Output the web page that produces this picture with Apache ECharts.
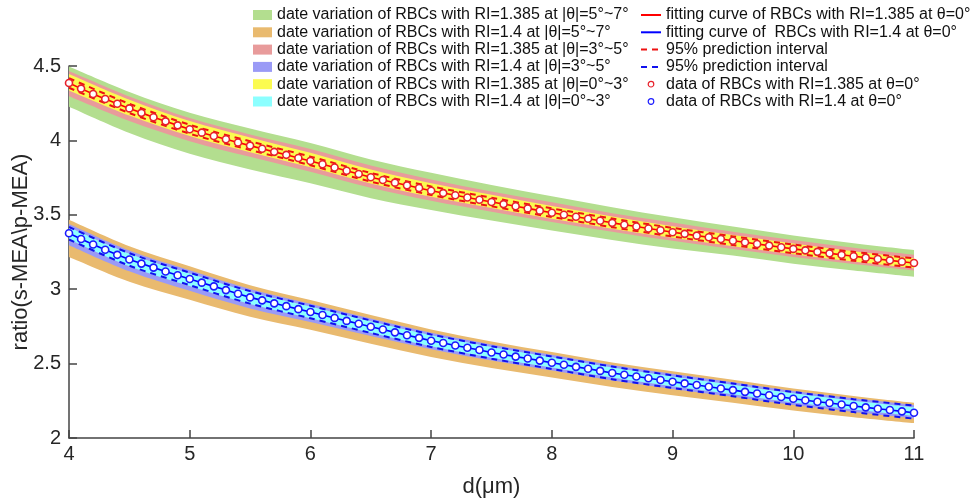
<!DOCTYPE html>
<html><head><meta charset="utf-8">
<script src="https://cdn.jsdelivr.net/npm/echarts@6/dist/echarts.min.js"></script>
<style>html,body{margin:0;padding:0;background:#fff}#c{width:979px;height:499px}</style>
</head><body><div id="c"></div>
<script>
// ---- data ----
const dFine = [4.0,4.1,4.2,4.3,4.4,4.5,4.6,4.7,4.8,4.9,5.0,5.1,5.2,5.3,5.4,5.5,5.6,5.7,5.8,5.9,6.0,6.1,6.2,6.3,6.4,6.5,6.6,6.7,6.8,6.9,7.0,7.1,7.2,7.3,7.4,7.5,7.6,7.7,7.8,7.9,8.0,8.1,8.2,8.3,8.4,8.5,8.6,8.7,8.8,8.9,9.0,9.1,9.2,9.3,9.4,9.5,9.6,9.7,9.8,9.9,10.0,10.1,10.2,10.3,10.4,10.5,10.6,10.7,10.8,10.9,11.0];
const redFit = [4.386,4.348,4.312,4.278,4.246,4.215,4.185,4.156,4.128,4.101,4.075,4.052,4.030,4.008,3.986,3.965,3.944,3.923,3.903,3.882,3.862,3.840,3.818,3.796,3.774,3.752,3.734,3.716,3.698,3.680,3.662,3.646,3.631,3.616,3.601,3.586,3.572,3.557,3.543,3.528,3.514,3.500,3.487,3.473,3.460,3.446,3.433,3.421,3.408,3.396,3.383,3.372,3.360,3.349,3.337,3.326,3.315,3.304,3.293,3.282,3.271,3.261,3.251,3.241,3.231,3.221,3.212,3.203,3.194,3.185,3.176];
const blueFit = [3.376,3.337,3.300,3.265,3.231,3.200,3.172,3.145,3.119,3.094,3.069,3.044,3.019,2.994,2.969,2.945,2.925,2.905,2.886,2.866,2.847,2.827,2.807,2.787,2.768,2.748,2.729,2.710,2.691,2.673,2.654,2.638,2.622,2.607,2.591,2.575,2.561,2.547,2.534,2.520,2.506,2.492,2.478,2.465,2.451,2.437,2.425,2.413,2.402,2.390,2.378,2.367,2.356,2.344,2.333,2.322,2.310,2.299,2.287,2.276,2.264,2.254,2.244,2.235,2.225,2.215,2.206,2.197,2.188,2.179,2.170];

const dBand = [4,4.5,5,5.5,6,6.5,7,7.5,8,8.5,9,9.5,10,10.5,11];
const greenUp  = [4.496,4.325,4.185,4.080,3.982,3.872,3.782,3.701,3.624,3.551,3.483,3.421,3.361,3.309,3.263];
const greenLo  = [4.226,4.050,3.910,3.805,3.712,3.612,3.532,3.461,3.394,3.331,3.273,3.226,3.171,3.126,3.084];
const pinkUp   = [4.466,4.295,4.150,4.040,3.942,3.832,3.737,3.656,3.584,3.511,3.448,3.386,3.331,3.278,3.231];
const pinkLo   = [4.296,4.130,3.995,3.890,3.790,3.682,3.594,3.521,3.452,3.386,3.325,3.270,3.216,3.169,3.126];
const yellowUp = [4.446,4.273,4.130,4.020,3.917,3.804,3.712,3.634,3.559,3.489,3.423,3.364,3.307,3.255,3.208];
const yellowLo = [4.336,4.167,4.029,3.920,3.819,3.710,3.621,3.546,3.474,3.407,3.345,3.289,3.235,3.186,3.141];
const redPiUp  = [4.418,4.246,4.105,3.994,3.891,3.781,3.691,3.615,3.543,3.475,3.412,3.355,3.300,3.251,3.207];
const redPiLo  = [4.354,4.184,4.045,3.936,3.833,3.723,3.633,3.557,3.485,3.417,3.354,3.297,3.242,3.191,3.145];

const orangeUp = [3.466,3.288,3.154,3.027,2.927,2.826,2.730,2.649,2.578,2.508,2.448,2.392,2.333,2.283,2.237];
const orangeLo = [3.216,3.050,2.929,2.815,2.727,2.633,2.544,2.470,2.406,2.342,2.288,2.237,2.184,2.140,2.100];
const purpleUp = [3.438,3.260,3.127,3.001,2.902,2.803,2.708,2.629,2.559,2.490,2.431,2.374,2.316,2.267,2.222];
const purpleLo = [3.296,3.120,2.989,2.870,2.779,2.686,2.596,2.520,2.454,2.387,2.330,2.277,2.221,2.175,2.132];
const cyanUp   = [3.416,3.238,3.105,2.981,2.883,2.784,2.690,2.611,2.542,2.473,2.414,2.358,2.300,2.251,2.206];
const cyanLo   = [3.336,3.155,3.021,2.900,2.804,2.708,2.617,2.540,2.473,2.406,2.348,2.294,2.238,2.191,2.148];
const bluePiUp = [3.418,3.242,3.111,2.987,2.889,2.790,2.696,2.617,2.548,2.480,2.421,2.366,2.309,2.261,2.218];
const bluePiLo = [3.334,3.158,3.027,2.903,2.805,2.706,2.612,2.533,2.464,2.395,2.336,2.280,2.223,2.174,2.130];

const xTicks = [4,5,6,7,8,9,10,11];
const yTicks = [2,2.5,3,3.5,4,4.5];

const bandNames = [
  'date variation of RBCs with RI=1.385 at |θ|=5°~7°',
  'date variation of RBCs with RI=1.4 at |θ|=5°~7°',
  'date variation of RBCs with RI=1.385 at |θ|=3°~5°',
  'date variation of RBCs with RI=1.4 at |θ|=3°~5°',
  'date variation of RBCs with RI=1.385 at |θ|=0°~3°',
  'date variation of RBCs with RI=1.4 at |θ|=0°~3°'
];
const lineNames = [
  'fitting curve of RBCs with RI=1.385 at θ=0°',
  'fitting curve of  RBCs with RI=1.4 at θ=0°',
  '95% prediction interval',
  '95% prediction interval\u200b',
  'data of RBCs with RI=1.385 at θ=0°',
  'data of RBCs with RI=1.4 at θ=0°'
];
const bandColors = ['#b3de8f','#e9ba6f','#e89b9b','#9a9af6','#fbfb50','#8cffff'];
const RED = '#ff0000', BLUE = '#0000ff';

// ---- helpers ----
function catmull(pts, startCmd) {
  let s = startCmd + pts[0][0] + ',' + pts[0][1];
  const n = pts.length;
  for (let i = 0; i < n - 1; i++) {
    const p0 = pts[Math.max(i - 1, 0)], p1 = pts[i], p2 = pts[i + 1], p3 = pts[Math.min(i + 2, n - 1)];
    const c1x = p1[0] + (p2[0] - p0[0]) / 6, c1y = p1[1] + (p2[1] - p0[1]) / 6;
    const c2x = p2[0] - (p3[0] - p1[0]) / 6, c2y = p2[1] - (p3[1] - p1[1]) / 6;
    s += ' C' + c1x + ',' + c1y + ' ' + c2x + ',' + c2y + ' ' + p2[0] + ',' + p2[1];
  }
  return s;
}
function band(name, up, lo, color) {
  return {
    type:'custom', name:name, coordinateSystem:'cartesian2d', silent:true, z:1,
    itemStyle:{color:color},
    data:[[dBand[0], up[0]]],
    renderItem: function (params, api) {
      const top = [], bot = [];
      for (let i = 0; i < dBand.length; i++) top.push(api.coord([dBand[i], up[i]]));
      for (let i = dBand.length - 1; i >= 0; i--) bot.push(api.coord([dBand[i], lo[i]]));
      const d = catmull(top, 'M') + ' ' + catmull(bot, 'L') + ' Z';
      return {type:'path', shape:{pathData:d}, style:{fill:color, stroke:null}};
    }
  };
}
const series = [
  band(bandNames[0], greenUp, greenLo, bandColors[0]),
  band(bandNames[2], pinkUp, pinkLo, bandColors[2]),
  band(bandNames[4], yellowUp, yellowLo, bandColors[4]),
  band(bandNames[1], orangeUp, orangeLo, bandColors[1]),
  band(bandNames[3], purpleUp, purpleLo, bandColors[3]),
  band(bandNames[5], cyanUp, cyanLo, bandColors[5])
];
function piLine(name, vals, color) {
  return {type:'line', name:name, data: dBand.map((d,i)=>[d, vals[i]]), symbol:'none', smooth:0.3,
    lineStyle:{color:color, width:2, type:[6,5]}, itemStyle:{color:color}, z:3, silent:true};
}
series.push(piLine(lineNames[2], redPiUp, '#ee1111'));
series.push(piLine(lineNames[2], redPiLo, '#ee1111'));
series.push(piLine(lineNames[3], bluePiUp, '#1111ee'));
series.push(piLine(lineNames[3], bluePiLo, '#1111ee'));
series.push({type:'line', name:lineNames[0], data: dFine.map((d,i)=>[d, redFit[i]]), symbol:'none',
  lineStyle:{color:RED, width:1.6}, itemStyle:{color:RED}, z:4, silent:true});
series.push({type:'line', name:lineNames[1], data: dFine.map((d,i)=>[d, blueFit[i]]), symbol:'none',
  lineStyle:{color:BLUE, width:1.6}, itemStyle:{color:BLUE}, z:4, silent:true});
series.push({type:'line', name:lineNames[4], data: dFine.map((d,i)=>[d, redFit[i]]), symbol:'circle', symbolSize:7,
  showAllSymbol:true, lineStyle:{width:0, opacity:0}, itemStyle:{color:'#fff', borderColor:'#e8202a', borderWidth:1.6}, z:5, silent:true});
series.push({type:'line', name:lineNames[5], data: dFine.map((d,i)=>[d, blueFit[i]]), symbol:'circle', symbolSize:7,
  showAllSymbol:true, lineStyle:{width:0, opacity:0}, itemStyle:{color:'#fff', borderColor:'#1a1aff', borderWidth:1.6}, z:5, silent:true});

const FONT = 'Liberation Sans, Arial, sans-serif';
const option = {
  animation:false,
  backgroundColor:'#fff',
  grid:{left:69, right:65, top:66, bottom:61, containLabel:false, outerBoundsMode:'none'},
  xAxis:{type:'value', min:xTicks[0], max:xTicks[xTicks.length-1], interval:1,
    name:'d(μm)', nameLocation:'middle', nameGap:38, nameMoveOverlap:false,
    nameTextStyle:{fontSize:22, color:'#262626', fontFamily:FONT},
    axisLine:{lineStyle:{color:'#444', width:1.5}},
    axisTick:{inside:true, length:8, lineStyle:{color:'#444', width:1.5}},
    axisLabel:{fontSize:20, color:'#262626', fontFamily:FONT, margin:6},
    splitLine:{show:false}},
  yAxis:{type:'value', min:yTicks[0], max:yTicks[yTicks.length-1], interval:0.5,
    name:'ratio(s-MEA\\p-MEA)', nameLocation:'middle', nameGap:37, nameMoveOverlap:false,
    nameTextStyle:{fontSize:22, color:'#262626', fontFamily:FONT},
    axisLine:{show:true, lineStyle:{color:'#444', width:1.5}},
    axisTick:{show:true, inside:true, length:8, lineStyle:{color:'#444', width:1.5}},
    axisLabel:{fontSize:20, color:'#262626', fontFamily:FONT, margin:8},
    splitLine:{show:false}},
  legend:[
    {orient:'vertical', left:253, top:7, padding:0, itemGap:1.3, itemWidth:19, itemHeight:10,
     textStyle:{fontSize:16, color:'#111', fontFamily:FONT}, selectedMode:false,
     data: bandNames.map((n,i)=>({name:n, icon:'rect', itemStyle:{color:bandColors[i], borderWidth:0}}))},
    {orient:'vertical', left:640, top:7, padding:0, itemGap:1.3, itemWidth:20, itemHeight:7,
     textStyle:{fontSize:16, color:'#111', fontFamily:FONT}, selectedMode:false,
     formatter: n => n.replace('\u200b',''),
     data:[
       {name:lineNames[0], itemStyle:{opacity:0}},
       {name:lineNames[1], itemStyle:{opacity:0}},
       {name:lineNames[2], itemStyle:{opacity:0}},
       {name:lineNames[3], itemStyle:{opacity:0}},
       {name:lineNames[4], itemStyle:{color:'#fff', borderColor:'#e8202a', borderWidth:1.2}, lineStyle:{opacity:0, width:0}},
       {name:lineNames[5], itemStyle:{color:'#fff', borderColor:'#1a1aff', borderWidth:1.2}, lineStyle:{opacity:0, width:0}}
     ]}
  ],
  series: series
};
const chart = echarts.init(document.getElementById('c'), null, {renderer:'canvas'});
chart.setOption(option);
</script>
</body></html>
